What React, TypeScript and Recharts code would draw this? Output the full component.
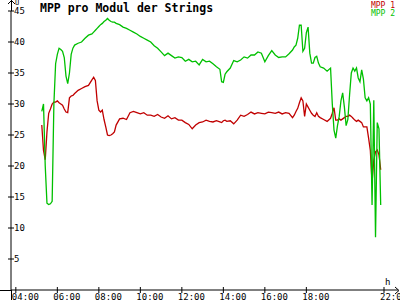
import { LineChart, Line, XAxis, YAxis } from 'recharts';

// time in minutes since midnight
const times = [
  315, 320, 325, 330, 335, 340, 345, 350, 355, 360, 365, 370, 375, 380, 385, 390, 395, 400, 405, 410,
  420, 430, 440, 450, 460, 465, 470, 475, 480, 485, 490, 495, 500, 505, 510, 515, 520, 525, 530,
  540, 550, 560, 570, 580, 590, 600, 610, 620, 630, 640, 650, 660, 670, 680, 690, 700, 710, 720,
  730, 740, 750, 760, 770, 780, 790, 800, 810, 820, 830, 835, 840, 845, 850, 860, 870, 880, 890,
  900, 910, 920, 930, 940, 950, 960, 970, 980, 990, 1000, 1010, 1020, 1030, 1040, 1045, 1050, 1055,
  1060, 1065, 1070, 1075, 1080, 1085, 1090, 1095, 1100, 1105, 1110, 1115, 1120, 1130, 1140, 1150,
  1155, 1160, 1165, 1170, 1175, 1180, 1185, 1190, 1195, 1200, 1205, 1210, 1215, 1220, 1225, 1230,
  1235, 1240, 1245, 1250, 1255, 1260, 1265, 1270, 1275, 1280, 1285, 1290, 1295,
];

const mpp1 = [
  26.6, 22.5, 21.0, 25.5, 28.5, 29.2, 30.0, 30.3, 30.3, 30.5, 30.2, 30.0, 29.8, 29.2, 28.7, 28.6, 31.0, 31.3, 31.4, 31.7,
  32.2, 32.5, 32.8, 33.0, 33.9, 34.3, 33.8, 30.5, 29.0, 28.7, 29.0, 27.5, 26.3, 25.0, 24.9, 25.0, 25.2, 25.5, 26.6,
  27.6, 27.7, 27.5, 28.6, 28.8, 28.6, 28.4, 28.6, 28.2, 28.2, 28.0, 28.3, 27.9, 27.7, 28.1, 27.6, 27.8, 27.4, 27.4,
  27.0, 26.7, 26.0, 26.6, 27.0, 27.1, 27.4, 27.2, 27.1, 27.3, 27.1, 27.0, 27.3, 27.4, 27.2, 27.3, 26.8, 27.4, 28.2,
  28.0, 28.3, 28.7, 28.4, 28.6, 28.5, 28.4, 28.7, 28.6, 28.5, 28.7, 28.4, 28.6, 28.5, 27.8, 28.2, 28.8, 29.3,
  30.2, 31.0, 30.5, 28.0, 30.0, 29.5, 29.0, 28.5, 28.2, 28.0, 28.6, 28.0, 27.8, 27.5, 27.2, 27.7,
  28.5, 29.4, 27.4, 27.4, 27.6, 27.4, 27.6, 27.8, 28.0, 28.0, 28.2, 28.0, 27.7, 27.4, 27.2, 27.4,
  27.2, 27.0, 26.3, 26.3, 26.3, 24.5, 22.5, 17.3, 21.0, 22.3, 22.6, 21.8, 19.4,
];

const mpp2 = [
  28.8, 30.0, 20.0, 14.0, 13.8, 13.9, 14.3, 30.0, 36.5, 38.0, 39.0, 38.8, 38.5, 37.5, 34.5, 33.3, 35.0, 38.0, 39.0, 39.5,
  39.8, 40.0, 40.6, 41.1, 41.3, 41.6, 41.9, 42.2, 42.5, 42.8, 43.0, 43.3, 43.5, 43.8, 43.5, 43.3, 43.2, 43.2, 43.0,
  42.8, 42.4, 42.2, 41.9, 41.6, 41.3, 40.9, 40.6, 40.3, 40.0, 39.4, 39.0, 38.4, 37.8, 38.2, 37.8, 37.4, 37.6, 37.5,
  36.9, 37.2, 36.8, 36.9, 36.3, 37.2, 36.8, 36.9, 36.5, 36.0, 35.6, 33.6, 33.5, 34.8, 35.2, 35.8, 37.0, 36.8, 37.1,
  37.6, 37.4, 37.9, 37.9, 38.4, 38.2, 36.8, 37.8, 38.6, 37.9, 37.5, 37.6, 37.6, 38.1, 38.7, 39.2, 39.5, 40.6,
  42.7, 42.7, 38.5, 39.0, 41.5, 42.4, 38.2, 36.6, 36.6, 37.5, 37.7, 36.6, 36.0, 35.8, 35.3, 35.8,
  30.0, 25.8, 24.5, 26.5, 28.0, 30.5, 31.8, 29.5, 26.5, 27.5, 31.5, 35.0, 35.8, 35.3, 35.8, 34.2,
  33.6, 35.5, 34.0, 31.0, 30.5, 31.0, 30.0, 13.7, 30.6, 8.5, 27.0, 26.0, 13.7,
];

const yTicks = [5, 10, 15, 20, 25, 30, 35, 40, 45];
const xTicks = [240, 360, 480, 600, 720, 840, 960, 1080, 1200, 1320];
const seriesNames = ['MPP 1', 'MPP 2'];

const RED = '#c00000';
const GREEN = '#00c000';
const FONT = '"DejaVu Sans Mono", "Liberation Mono", monospace';

const data = times.map((t, i) => ({ t, mpp1: mpp1[i], mpp2: mpp2[i] }));

const fmtTime = (m: number) =>
  `${String(Math.floor(m / 60)).padStart(2, '0')}:${String(m % 60).padStart(2, '0')}`;

function YTick({ x, y, payload }: any) {
  return (
    <g>
      <line x1={x - 3} x2={x + 3} y1={y} y2={y} stroke="#000" />
      <text x={x + 3} y={y + 3} fontSize={9} fontFamily={FONT} fill="#000">
        {payload.value}
      </text>
    </g>
  );
}

function XTick({ x, y, payload }: any) {
  return (
    <g>
      <line x1={x} x2={x} y1={y - 3} y2={y + 3} stroke="#000" />
      <text x={x - 4} y={y + 10} fontSize={9} fontFamily={FONT} fill="#000">
        {fmtTime(payload.value)}
      </text>
    </g>
  );
}

export default function App() {
  return (
    <div style={{ position: 'absolute', left: 0, top: 0, width: 400, height: 300, background: '#fff', overflow: 'hidden' }}>
      <LineChart width={400} height={300} data={data} margin={{ top: 11, right: 2, bottom: 9, left: 10 }}>
        <XAxis
          dataKey="t"
          type="number"
          domain={[226, 1345]}
          ticks={xTicks}
          height={1}
          tickSize={0}
          tickMargin={0}
          tick={<XTick />}
          axisLine={{ stroke: '#000' }}
          allowDataOverflow
        />
        <YAxis
          type="number"
          domain={[0, 45]}
          ticks={yTicks}
          width={1}
          tickSize={0}
          tickMargin={0}
          tick={<YTick />}
          axisLine={{ stroke: '#000' }}
        />
        <Line type="linear" dataKey="mpp1" name="MPP 1" stroke={RED} strokeWidth={1.3} dot={false} isAnimationActive={false} />
        <Line type="linear" dataKey="mpp2" name="MPP 2" stroke={GREEN} strokeWidth={1.3} dot={false} isAnimationActive={false} />
      </LineChart>
      <svg width={400} height={300} style={{ position: 'absolute', left: 0, top: 0, pointerEvents: 'none' }}>
        <text x={40} y={12} fontSize={11.5} fontWeight="bold" fontFamily={FONT} fill="#000">
          MPP pro Modul der Strings
        </text>
        <text x={395} y={8} fontSize={8} fontFamily={FONT} fill={RED} textAnchor="end">{seriesNames[0]}</text>
        <text x={395} y={16} fontSize={8} fontFamily={FONT} fill={GREEN} textAnchor="end">{seriesNames[1]}</text>
        {/* axis extensions and arrows */}
        <line x1={11.5} x2={11.5} y1={0} y2={11} stroke="#000" />
        <line x1={11.5} x2={11.5} y1={290} y2={300} stroke="#000" />
        <polyline points="8,4 11.5,0.5 15,4" fill="none" stroke="#000" />
        <line x1={0} x2={11} y1={290.5} y2={290.5} stroke="#000" />
        <polyline points="395,287 399,290.5 395,294" fill="none" stroke="#000" />
        <text x={15} y={5} fontSize={7} fontFamily={FONT} fill="#000">U</text>
        <text x={385} y={285} fontSize={9} fontFamily={FONT} fill="#000">h</text>
      </svg>
    </div>
  );
}
